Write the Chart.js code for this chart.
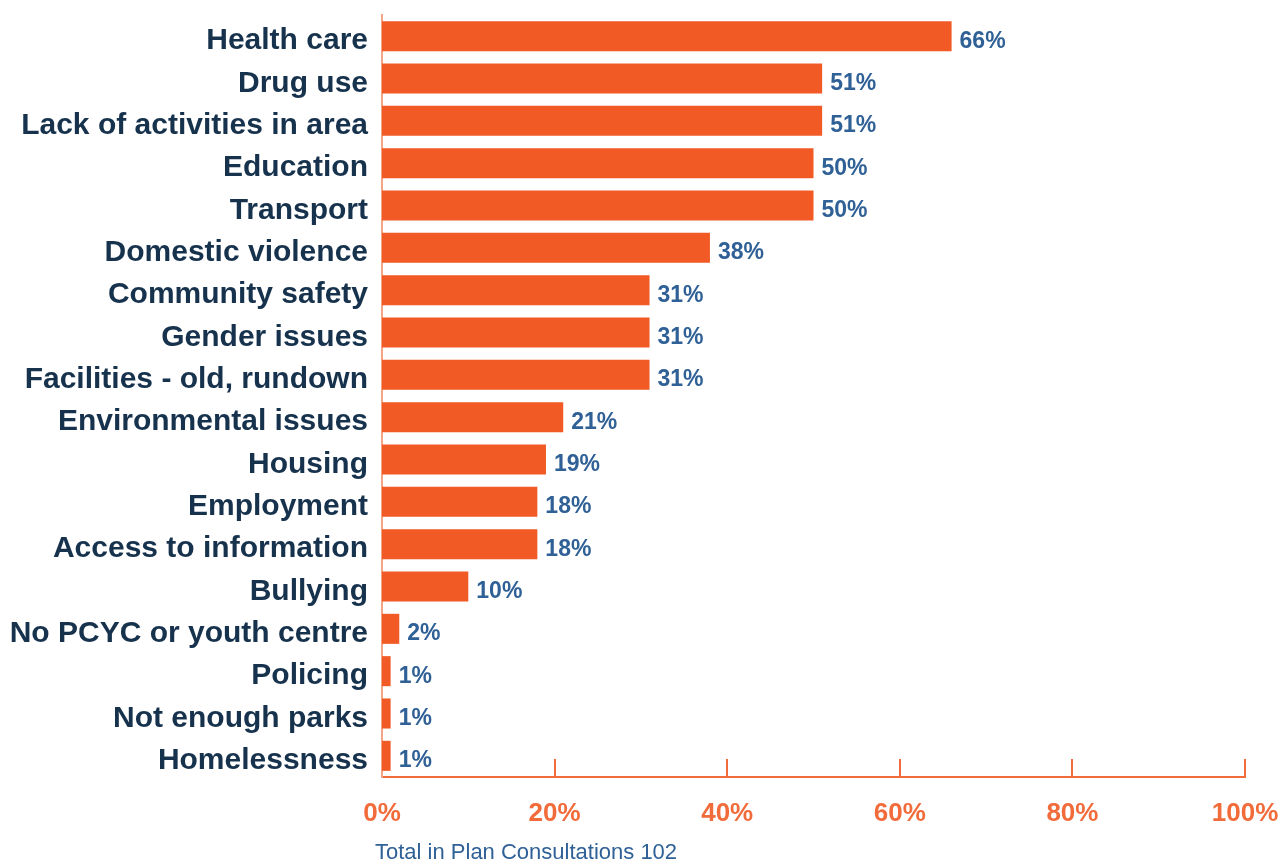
<!DOCTYPE html>
<html>
<head>
<meta charset="utf-8">
<script src="https://cdn.jsdelivr.net/npm/chart.js@4"></script>
<style>
  html, body { margin: 0; padding: 0; background: #fff; }
  #wrap { width: 1281px; height: 865px; position: relative; }
</style>
</head>
<body>
<div id="wrap"><canvas id="issues"></canvas></div>
<script>
const categories = [
    'Health care',
    'Drug use',
    'Lack of activities in area',
    'Education',
    'Transport',
    'Domestic violence',
    'Community safety',
    'Gender issues',
    'Facilities - old, rundown',
    'Environmental issues',
    'Housing',
    'Employment',
    'Access to information',
    'Bullying',
    'No PCYC or youth centre',
    'Policing',
    'Not enough parks',
    'Homelessness'
];
const percentages = [66, 51, 51, 50, 50, 38, 31, 31, 31, 21, 19, 18, 18, 10, 2, 1, 1, 1];
const xTicks = [0, 20, 40, 60, 80, 100];
const footnote = 'Total in Plan Consultations 102';

const ORANGE = '#F15A24';
const AXIS_ORANGE = '#F26B3A';
const NAVY = '#17324D';
const BLUE = '#2F6096';
const FONT = '"Liberation Sans", Arial, sans-serif';

// value labels + inward tick marks + footnote
const extras = {
    id: 'extras',
    afterDatasetsDraw(chart) {
        const ctx = chart.ctx;
        const meta = chart.getDatasetMeta(0);
        ctx.save();
        ctx.font = 'bold 23px ' + FONT;
        ctx.fillStyle = BLUE;
        ctx.textBaseline = 'middle';
        ctx.textAlign = 'left';
        meta.data.forEach((bar, i) => {
            ctx.fillText(percentages[i] + '%', bar.x + 8, bar.y + 5);
        });

        const x = chart.scales.x;
        const bottom = chart.chartArea.bottom;
        ctx.strokeStyle = AXIS_ORANGE;
        ctx.lineWidth = 2;
        xTicks.forEach(t => {
            if (t === 0) return;
            const px = Math.round(x.getPixelForValue(t));
            ctx.beginPath();
            ctx.moveTo(px, bottom);
            ctx.lineTo(px, bottom - 18);
            ctx.stroke();
        });

        ctx.font = '22px ' + FONT;
        ctx.fillStyle = BLUE;
        ctx.textBaseline = 'middle';
        ctx.fillText(footnote, chart.chartArea.left - 7, 853);
        ctx.restore();
    }
};

new Chart(document.getElementById('issues'), {
    type: 'bar',
    data: {
        labels: categories,
        datasets: [{
            data: percentages,
            backgroundColor: ORANGE,
            categoryPercentage: 1,
            barPercentage: 0.71
        }]
    },
    options: {
        indexAxis: 'y',
        responsive: true,
        maintainAspectRatio: false,
        animation: false,
        layout: {
            padding: { top: 15, right: 36, bottom: 0, left: 0 }
        },
        plugins: {
            legend: { display: false },
            tooltip: { enabled: false }
        },
        scales: {
            x: {
                min: 0,
                max: 100,
                afterBuildTicks(scale) {
                    scale.ticks = xTicks.map(v => ({ value: v }));
                },
                afterFit(scale) {
                    scale.height = 88;
                    scale.paddingLeft = 0;
                    scale.paddingRight = 0;
                },
                grid: { display: false, drawTicks: false },
                border: { color: AXIS_ORANGE, width: 2 },
                ticks: {
                    padding: 21,
                    color: AXIS_ORANGE,
                    font: { family: FONT, size: 26, weight: 'bold' },
                    callback: v => v + '%'
                }
            },
            y: {
                afterFit(scale) {
                    scale.width = 382;
                    scale.paddingTop = 0;
                    scale.paddingBottom = 0;
                },
                grid: { display: false, drawTicks: false },
                border: { color: '#F6A584', width: 2 },
                ticks: {
                    padding: 14,
                    labelOffset: 5,
                    color: NAVY,
                    font: { family: FONT, size: 30, weight: 'bold' }
                }
            }
        }
    },
    plugins: [extras]
});
</script>
</body>
</html>
